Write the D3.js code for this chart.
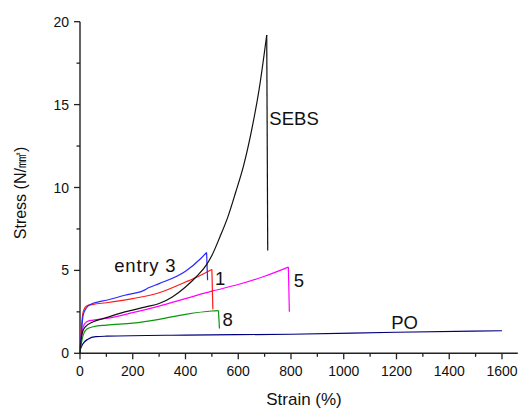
<!DOCTYPE html>
<html>
<head>
<meta charset="utf-8">
<script src="https://cdn.jsdelivr.net/npm/d3@7/dist/d3.min.js"></script>
<style>
  html, body { margin: 0; padding: 0; background: #fff; }
  svg { display: block; }
  text { font-family: "Liberation Sans", Arial, sans-serif; fill: #111; }
</style>
</head>
<body>
<svg id="chart" width="518" height="408"></svg>
<script>
// Tensile curves: [strain %, stress N/mm²]; each sample ends with a vertical drop at break.
const sebs = [[0,0],[4,0.8],[10,1.3],[20,1.6],[50,1.9],[100,2.15],[170,2.5],[250,2.8],[300,3.0],[350,3.4],[400,4.0],[440,4.6],[480,5.35],[500,5.9],[530,7.0],[560,8.2],[590,9.7],[620,11.3],[650,13.4],[680,16.0],[708,19.2]];
const sebsBreak = 6.2;

const entry3 = [[0,0.3],[5,1.2],[12,2.3],[25,2.75],[40,2.95],[70,3.1],[100,3.2],[170,3.5],[240,3.78],[260,3.95],[300,4.2],[400,4.95],[460,5.75],[480,6.08]];
const entry3Break = 4.4;

const entry1 = [[0,0.3],[5,1.5],[12,2.5],[25,2.85],[50,2.95],[100,3.05],[200,3.3],[300,3.65],[400,4.3],[450,4.65],[500,5.05]];
const entry1Break = 2.65;

const entry5 = [[0,0.2],[5,0.9],[12,1.6],[25,1.9],[50,2.0],[100,2.1],[200,2.45],[300,2.85],[400,3.3],[500,3.75],[600,4.15],[700,4.65],[790,5.2]];
const entry5Break = 2.5;

const entry8 = [[0,0.1],[5,0.6],[12,1.1],[25,1.45],[50,1.6],[100,1.7],[200,1.82],[300,2.05],[400,2.35],[500,2.55],[525,2.57]];
const entry8Break = 1.5;

const po = [[0,0.2],[10,0.55],[30,0.85],[60,1.0],[100,1.03],[400,1.1],[800,1.15],[1200,1.27],[1600,1.36]];

const xTicks = [0, 200, 400, 600, 800, 1000, 1200, 1400, 1600];
const xMinor = d3.range(100, 1700, 200);
const yTicks = [0, 5, 10, 15, 20];
const yMinor = [2.5, 7.5, 12.5, 17.5];

const svg = d3.select("#chart");
const x = d3.scaleLinear().domain([0, 1660]).range([80, 517.8]);
const y = d3.scaleLinear().domain([0, 20]).range([353.3, 21.7]);

const series = [
  { pts: po,     brk: null,         color: "#00007f", label: "PO",      lx: 1180, ly: 1.85 },
  { pts: entry8, brk: entry8Break,  color: "#0a960a", label: "8",       lx: 540,  ly: 2.05 },
  { pts: entry5, brk: entry5Break,  color: "#ff00ff", label: "5",       lx: 810,  ly: 4.4 },
  { pts: entry1, brk: entry1Break,  color: "#ff1a1a", label: "1",       lx: 512,  ly: 4.55 },
  { pts: entry3, brk: entry3Break,  color: "#2a2aff", label: "entry 3", lx: 130,  ly: 5.3 },
  { pts: sebs,   brk: sebsBreak,    color: "#111111", label: "SEBS",    lx: 718,  ly: 14.2 }
];

const line = d3.line().x(d => x(d[0])).y(d => y(d[1])).curve(d3.curveMonotoneX);

// axes
const xAxis = svg.append("g").attr("transform", `translate(0,${y(0)})`);
xAxis.append("line").attr("x1", x(0)).attr("x2", x(1660)).attr("stroke", "#222").attr("stroke-width", 1.4);
xAxis.selectAll(".maj").data(xTicks).join("line")
  .attr("x1", d => x(d)).attr("x2", d => x(d)).attr("y1", 0).attr("y2", 6)
  .attr("stroke", "#222").attr("stroke-width", 1.3);
xAxis.selectAll(".min").data(xMinor).join("line")
  .attr("x1", d => x(d)).attr("x2", d => x(d)).attr("y1", 0).attr("y2", 3.5)
  .attr("stroke", "#222").attr("stroke-width", 1.3);
xAxis.selectAll("text").data(xTicks).join("text")
  .attr("x", d => x(d)).attr("y", 23).attr("text-anchor", "middle")
  .attr("font-size", 14).text(d => d);

const yAxis = svg.append("g").attr("transform", `translate(${x(0)},0)`);
yAxis.append("line").attr("y1", y(0)).attr("y2", y(20)).attr("stroke", "#222").attr("stroke-width", 1.4);
yAxis.selectAll(".maj").data(yTicks).join("line")
  .attr("x1", -6).attr("x2", 0).attr("y1", d => y(d)).attr("y2", d => y(d))
  .attr("stroke", "#222").attr("stroke-width", 1.3);
yAxis.selectAll(".min").data(yMinor).join("line")
  .attr("x1", -3.5).attr("x2", 0).attr("y1", d => y(d)).attr("y2", d => y(d))
  .attr("stroke", "#222").attr("stroke-width", 1.3);
yAxis.selectAll("text").data(yTicks).join("text")
  .attr("x", -11).attr("y", d => y(d)).attr("dy", "0.36em").attr("text-anchor", "end")
  .attr("font-size", 14).text(d => d);

// axis titles
svg.append("text").attr("x", 304).attr("y", 405).attr("text-anchor", "middle")
  .attr("font-size", 17).text("Strain (%)");
svg.append("text").attr("transform", "translate(26,193) rotate(-90)")
  .attr("text-anchor", "middle").attr("font-size", 16).text("Stress (N/㎟)");

// curves
series.forEach(s => {
  svg.append("path").datum(s.pts).attr("d", line)
    .attr("fill", "none").attr("stroke", s.color).attr("stroke-width", 1.2);
  if (s.brk !== null) {
    const last = s.pts[s.pts.length - 1];
    svg.append("line")
      .attr("x1", x(last[0])).attr("x2", x(last[0]) + 1)
      .attr("y1", y(last[1])).attr("y2", y(s.brk))
      .attr("stroke", s.color).attr("stroke-width", 1.2);
  }
  svg.append("text").attr("x", x(s.lx)).attr("y", y(s.ly)).attr("dy", "0.36em")
    .attr("font-size", 18.5).attr("letter-spacing", s.label.length > 4 ? 0.8 : 0)
    .text(s.label);
});
</script>
</body>
</html>
